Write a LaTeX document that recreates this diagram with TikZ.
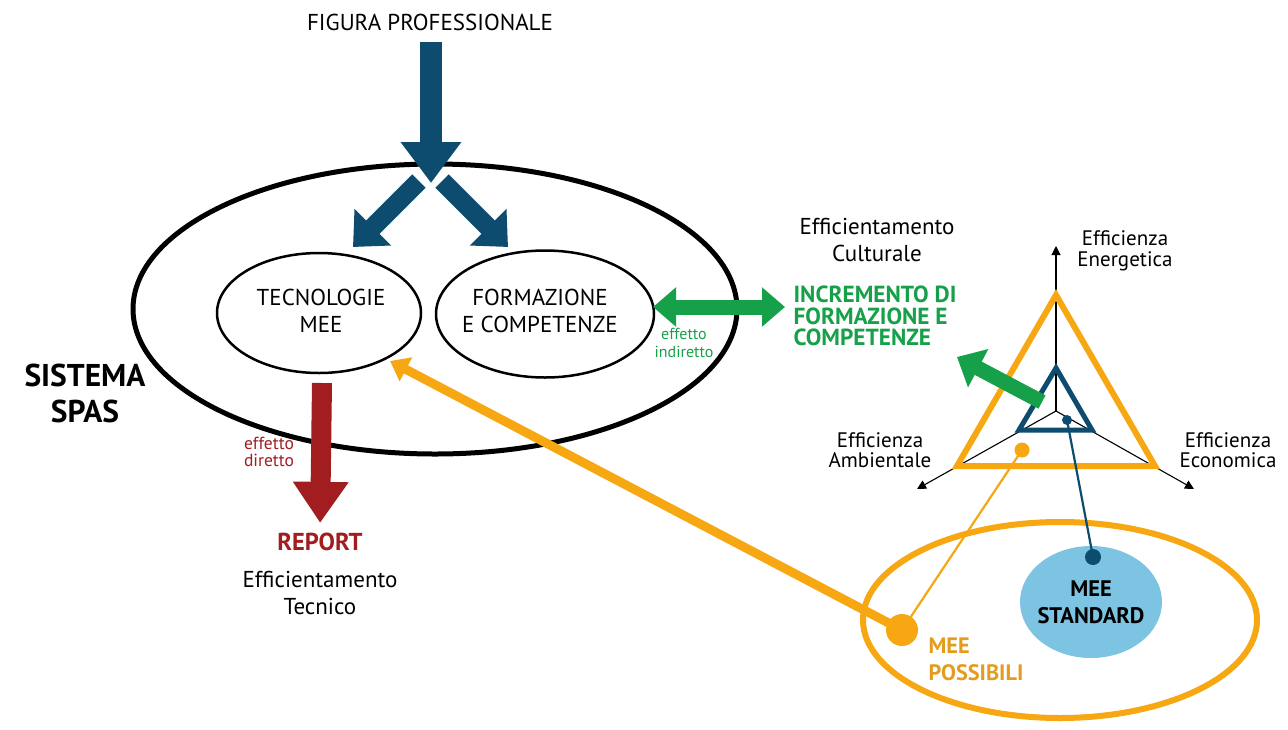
\documentclass[tikz,border=0pt]{standalone}
\usepackage{fontspec}
\setmainfont{PT Sans}
\usetikzlibrary{shapes.geometric,arrows.meta}
\definecolor{dblue}{HTML}{0E4C6F}
\definecolor{sgreen}{HTML}{17A04A}
\definecolor{dred}{HTML}{A11D1F}
\definecolor{sorange}{HTML}{F6A712}
\definecolor{torange}{HTML}{E39C1E}
\definecolor{lblue}{HTML}{7DC3E2}
\begin{document}
\begin{tikzpicture}[x=1pt,y=-1pt,
  txt/.style={font=\fontsize{23}{27.5}\selectfont, align=center, inner sep=0pt},
  small/.style={font=\fontsize{16}{17.5}\selectfont, align=center, inner sep=0pt},
  axlbl/.style={font=\fontsize{21}{20.5}\selectfont, align=center, inner sep=0pt},
  oval/.style={ellipse, draw, inner sep=0pt},
  axis/.style={line width=1.1pt, -{Triangle[length=9pt,width=9pt]}},
  fatblue/.style={dblue, line width=22pt, -{Triangle[length=41pt,width=58pt]}},
  diagblue/.style={dblue, line width=19pt, -{Triangle[length=28pt,width=50pt]}},
]
\useasboundingbox (0,0) rectangle (1288,729);

% ---------------- SISTEMA SPAS ----------------
\node[oval, line width=5pt, minimum width=604pt, minimum height=290pt] (spas) at (435,309) {};
\node[oval, line width=2.5pt, minimum width=204pt, minimum height=120pt] (tec) at (319,313) {};
\node[oval, line width=2.5pt, minimum width=218pt, minimum height=127pt] (form) at (545,314) {};
\node[txt] (tectxt) at (321,311) {TECNOLOGIE\\MEE};
\node[txt] (formtxt) at (540,311) {FORMAZIONE\\E COMPETENZE};
\node[font=\fontsize{31.5}{36}\selectfont\bfseries, align=center, inner sep=0pt] (spaslbl) at (85,393) {SISTEMA\\SPAS};

% ---------------- Figura professionale ----------------
\node[txt] (fig) at (430,22) {FIGURA PROFESSIONALE};
\coordinate (fpTip) at (431,183);
\draw[fatblue, shorten <=11pt] (fig.south -| fpTip) -- (fpTip);
\coordinate (lStart) at (419,181);
\coordinate (lTip) at (353,247);
\coordinate (rStart) at (442,181);
\coordinate (rTip) at (508,247);
\draw[diagblue] (lStart) -- (lTip);
\draw[diagblue] (rStart) -- (rTip);

% ---------------- Report ----------------
\coordinate (redTop) at (322,383);
\node[font=\fontsize{24.5}{28}\selectfont\bfseries, text=dred, inner sep=0pt] (report) at (320,542) {REPORT};
\node[txt] (tecnico) at (320,593) {Efficientamento\\Tecnico};
\draw[dred, line width=20pt, -{Triangle[length=41pt,width=53pt]}, shorten >=10pt] (redTop) -- (report.north);
\node[font=\fontsize{17.5}{16.5}\selectfont, align=center, inner sep=0pt, text=dred] (diretto) at (269,452) {effetto\\diretto};

% ---------------- Green double arrow ----------------
\node[text=sgreen, align=left, font=\fontsize{23.3}{21.8}\selectfont\bfseries, inner sep=0pt] (incr) at (875,316) {INCREMENTO DI\\FORMAZIONE E\\COMPETENZE};
\node[txt] (cult) at (877,240) {Efficientamento\\Culturale};
\coordinate (gL) at (653,307);
\coordinate (gR) at (785,307);
\draw[sgreen, line width=15pt, {Triangle[length=23pt,width=38pt]}-{Triangle[length=23pt,width=38pt]}] (gL) -- (gR);
\node[small, text=sgreen] (indiretto) at (684,343) {effetto\\indiretto};

% ---------------- Triangle diagram ----------------
\coordinate (O) at (1056,411);
\coordinate (axE) at (1056,246);
\coordinate (axA) at (917,489);
\coordinate (axC) at (1194,489);
\draw[axis] (O) -- (axE);
\draw[axis] (O) -- (axA);
\draw[axis] (O) -- (axC);
\node[axlbl] (lE) at (1125,251) {Efficienza\\Energetica};
\node[axlbl] (lA) at (880,450) {Efficienza\\Ambientale};
\node[axlbl] (lC) at (1228,450) {Efficienza\\Economica};

\coordinate (oT) at (1056,295);
\coordinate (oL) at (957,466);
\coordinate (oR) at (1155,466);
\draw[sorange, line width=6pt, line join=miter] (oT) -- (oL) -- (oR) -- cycle;
\coordinate (bT) at (1056,368);
\coordinate (bL) at (1019,430);
\coordinate (bR) at (1092,430);
\draw[dblue, line width=5pt, line join=miter] (bT) -- (bL) -- (bR) -- cycle;

\coordinate (gStart) at (1042,402);
\coordinate (gTip) at (957,357);
\draw[sgreen, line width=15pt, -{Triangle[length=24pt,width=42pt]}] (gStart) -- (gTip);

% ---------------- MEE ellipse ----------------
\node[oval, draw=sorange, line width=6pt, minimum width=394pt, minimum height=196pt] (possibili) at (1060,620) {};
\node[ellipse, fill=lblue, minimum width=142pt, minimum height=112pt, inner sep=0pt] (std) at (1091,602) {};
\node[font=\fontsize{22.5}{27}\selectfont\bfseries, align=center, inner sep=0pt] (stdtxt) at (1091,602) {MEE\\STANDARD};
\node[font=\fontsize{22.3}{27}\selectfont\bfseries, text=torange, align=left, inner sep=0pt] (posstxt) at (976,659) {MEE\\POSSIBILI};

% dots and lines
\node[circle, fill=dblue, minimum size=10pt, inner sep=0pt] (bdot) at (1067,420) {};
\node[circle, fill=dblue, minimum size=16pt, inner sep=0pt] (bdot2) at (1093,557) {};
\draw[dblue, line width=2.2pt] (bdot.center) -- (bdot2.center);
\node[circle, fill=sorange, minimum size=15pt, inner sep=0pt] (odot) at (1022,450) {};
\node[circle, fill=sorange, minimum size=32pt, inner sep=0pt] (odot2) at (902,630) {};
\draw[sorange, line width=2.2pt] (odot.center) -- (odot2.center);
\coordinate (oTip) at (390,361);
\draw[sorange, line width=9pt, -{Triangle[length=18pt,width=26pt]}] (odot2.center) -- (oTip);
\end{tikzpicture}
\end{document}
